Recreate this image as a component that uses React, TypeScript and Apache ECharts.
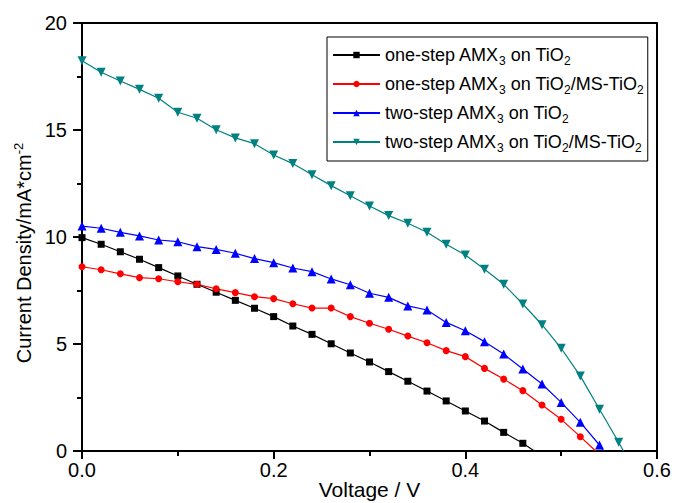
import React, { useEffect, useRef } from "react";
import * as echarts from "echarts";

const voltage = [0, 0.02, 0.04, 0.06, 0.08, 0.1, 0.12, 0.14, 0.16, 0.18, 0.2, 0.22, 0.24, 0.26, 0.28, 0.3, 0.32, 0.34, 0.36, 0.38, 0.4, 0.42, 0.44, 0.46, 0.48, 0.5, 0.52, 0.54, 0.56];

const oneStepTiO2 = [9.97, 9.66, 9.31, 8.96, 8.57, 8.18, 7.79, 7.42, 7.04, 6.67, 6.28, 5.84, 5.45, 5.01, 4.58, 4.16, 3.71, 3.26, 2.8, 2.34, 1.87, 1.4, 0.87, 0.36];
const oneStepTiO2Voc = 0.472;

const oneStepMS = [8.61, 8.47, 8.28, 8.1, 8.05, 7.91, 7.79, 7.58, 7.4, 7.21, 7.12, 6.88, 6.68, 6.68, 6.28, 5.97, 5.69, 5.37, 5.06, 4.69, 4.41, 3.86, 3.36, 2.82, 2.15, 1.48, 0.67];
const oneStepMSVoc = 0.536;

const twoStepTiO2 = [10.51, 10.41, 10.22, 10.05, 9.86, 9.78, 9.55, 9.42, 9.24, 8.99, 8.8, 8.55, 8.38, 8.04, 7.77, 7.37, 7.18, 6.78, 6.59, 6.01, 5.62, 5.11, 4.53, 3.83, 3.13, 2.27, 1.34, 0.28];
const twoStepTiO2Voc = 0.544;

const twoStepMS = [18.24, 17.7, 17.29, 16.9, 16.48, 15.83, 15.55, 15.01, 14.63, 14.36, 13.83, 13.43, 12.91, 12.4, 11.93, 11.45, 11.0, 10.64, 10.22, 9.66, 9.16, 8.49, 7.79, 6.87, 5.9, 4.8, 3.5, 1.95, 0.41];
const twoStepMSVoc = 0.565;

const seriesNames = [
  "one-step AMX{sub|3} on TiO{sub|2}",
  "one-step AMX{sub|3} on TiO{sub|2}/MS-TiO{sub|2}",
  "two-step AMX{sub|3} on TiO{sub|2}",
  "two-step AMX{sub|3} on TiO{sub|2}/MS-TiO{sub|2}",
];
const colors = ["#000000", "#ff0000", "#0000ff", "#008080"];
const symbols = ["rect", "circle", "triangle", "triangle"];
const rotations = [0, 0, 0, 180];

const xTickLabels = ["0.0", "0.2", "0.4", "0.6"];

const FONT = "Liberation Sans, Arial, sans-serif";

function buildData(values: number[], voc: number) {
  const pts: any[] = values.map((v, i) => [voltage[i], v]);
  pts.push({ value: [voc, 0], symbol: "none" });
  return pts;
}

export default function App() {
  const ref = useRef<HTMLDivElement>(null);
  useEffect(() => {
    if (!ref.current) return;
    const chart = echarts.init(ref.current, null, { renderer: "svg" });
    const allData = [
      buildData(oneStepTiO2, oneStepTiO2Voc),
      buildData(oneStepMS, oneStepMSVoc),
      buildData(twoStepTiO2, twoStepTiO2Voc),
      buildData(twoStepMS, twoStepMSVoc),
    ];
    const subRich = {
      sub: { fontSize: 12, fontFamily: FONT, color: "#000", verticalAlign: "bottom", lineHeight: 24 },
    };
    chart.setOption({
      animation: false,
      backgroundColor: "#fff",
      grid: { left: 82, top: 23, right: 18, bottom: 52, outerBoundsMode: "none", containLabel: false },
      legend: {
        orient: "vertical",
        left: 327,
        top: 37,
        padding: [6, 4, 7, 5],
        itemGap: 5,
        itemWidth: 47,
        itemHeight: 8,
        borderColor: "#000",
        borderWidth: 1,
        data: seriesNames,
        formatter: (name: string) => name,
        textStyle: {
          fontSize: 18,
          fontFamily: FONT,
          color: "#000",
          lineHeight: 24,
          rich: subRich,
        },
      },
      xAxis: [
        {
          type: "value",
          min: 0,
          max: 0.6,
          interval: 0.2,
          name: "Voltage / V",
          nameLocation: "middle",
          nameGap: 28,
          nameMoveOverlap: false,
          nameTextStyle: { fontSize: 21, fontFamily: FONT, color: "#000" },
          axisLine: { show: true, onZero: false, lineStyle: { color: "#000", width: 2 } },
          axisTick: { show: true, inside: false, length: 8, lineStyle: { color: "#000", width: 2 } },
          minorTick: { show: true, splitNumber: 2, length: 5, lineStyle: { color: "#000", width: 2 } },
          splitLine: { show: false },
          axisLabel: {
            fontSize: 20,
            fontFamily: FONT,
            color: "#000",
            margin: 9,
            formatter: (v: number) => xTickLabels[Math.round(v / 0.2)] ?? "",
          },
        },
        {
          type: "value",
          position: "top",
          min: 0,
          max: 0.6,
          axisLine: { show: true, onZero: false, lineStyle: { color: "#000", width: 2 } },
          axisTick: { show: false },
          axisLabel: { show: false },
          splitLine: { show: false },
        },
      ],
      yAxis: [
        {
          type: "value",
          min: 0,
          max: 20,
          interval: 5,
          axisLine: { show: true, onZero: false, lineStyle: { color: "#000", width: 2 } },
          axisTick: { show: true, inside: false, length: 9, lineStyle: { color: "#000", width: 2 } },
          minorTick: { show: true, splitNumber: 2, length: 5, lineStyle: { color: "#000", width: 2 } },
          splitLine: { show: false },
          axisLabel: { fontSize: 20, fontFamily: FONT, color: "#000", margin: 15 },
        },
        {
          type: "value",
          position: "right",
          min: 0,
          max: 20,
          axisLine: { show: true, onZero: false, lineStyle: { color: "#000", width: 2 } },
          axisTick: { show: false },
          axisLabel: { show: false },
          splitLine: { show: false },
        },
      ],
      graphic: [
        {
          type: "text",
          x: 12,
          y: 253,
          rotation: Math.PI / 2,
          style: {
            text: "Current Density/mA*cm{sup|-2}",
            fontSize: 20,
            fontFamily: FONT,
            fill: "#000",
            align: "center",
            verticalAlign: "top",
            lineHeight: 24,
            rich: {
              sup: { fontSize: 13, fontFamily: FONT, fill: "#000", verticalAlign: "top", lineHeight: 24 },
            },
          },
        },
      ],
      series: allData.map((d, i) => ({
        name: seriesNames[i],
        type: "line",
        data: d,
        xAxisIndex: 0,
        yAxisIndex: 0,
        symbol: symbols[i],
        symbolRotate: rotations[i],
        symbolSize: i === 2 || i === 3 ? 9 : 7,
        lineStyle: { color: colors[i], width: 1.2 },
        itemStyle: { color: colors[i] },
        clip: true,
      })),
    });
    return () => chart.dispose();
  }, []);
  return (
    <div
      ref={ref}
      style={{ position: "fixed", left: 0, top: 0, width: 675, height: 503 }}
    />
  );
}
